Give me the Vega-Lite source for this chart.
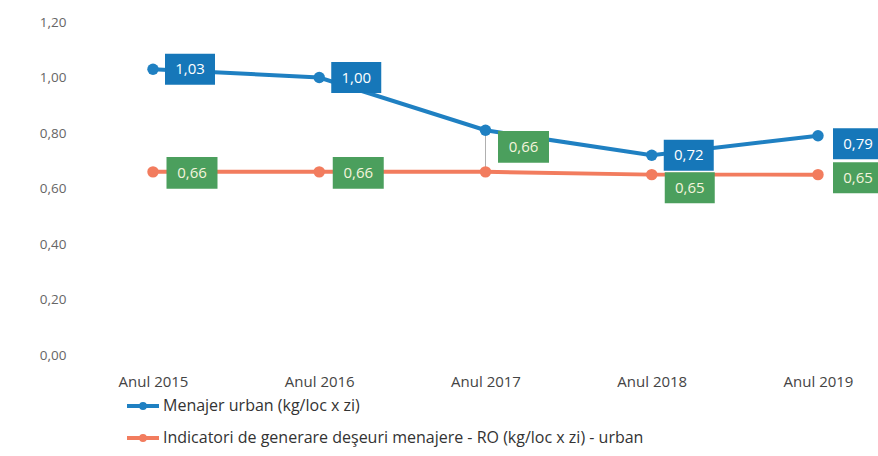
{
  "$schema": "https://vega.github.io/schema/vega-lite/v6.json",
  "autosize": "none",
  "width": 808,
  "height": 333,
  "padding": {"left": 70, "top": 22, "right": 0, "bottom": 101},
  "background": "white",
  "config": {
    "view": {"stroke": null},
    "locale": {"number": {"decimal": ",", "thousands": ".", "grouping": [3], "currency": ["", " lei"]}},
    "font": "Open Sans"
  },
  "data": {
    "values": [
      {"an": "Anul 2015", "serie": "Menajer urban (kg/loc x zi)", "v": 1.03},
      {"an": "Anul 2016", "serie": "Menajer urban (kg/loc x zi)", "v": 1.00},
      {"an": "Anul 2017", "serie": "Menajer urban (kg/loc x zi)", "v": 0.81},
      {"an": "Anul 2018", "serie": "Menajer urban (kg/loc x zi)", "v": 0.72},
      {"an": "Anul 2019", "serie": "Menajer urban (kg/loc x zi)", "v": 0.79},
      {"an": "Anul 2015", "serie": "Indicatori de generare deşeuri menajere - RO (kg/loc x zi) - urban", "v": 0.66},
      {"an": "Anul 2016", "serie": "Indicatori de generare deşeuri menajere - RO (kg/loc x zi) - urban", "v": 0.66},
      {"an": "Anul 2017", "serie": "Indicatori de generare deşeuri menajere - RO (kg/loc x zi) - urban", "v": 0.66},
      {"an": "Anul 2018", "serie": "Indicatori de generare deşeuri menajere - RO (kg/loc x zi) - urban", "v": 0.65},
      {"an": "Anul 2019", "serie": "Indicatori de generare deşeuri menajere - RO (kg/loc x zi) - urban", "v": 0.65}
    ]
  },
  "encoding": {
    "x": {
      "field": "an", "type": "ordinal",
      "scale": {"type": "point", "range": [83, 748], "padding": 0},
      "axis": {"title": null, "labelAngle": 0, "ticks": false, "domain": false, "labelPadding": 19, "labelFontSize": 15, "labelColor": "#444", "labelFont": "Open Sans"}
    },
    "y": {
      "field": "v", "type": "quantitative",
      "scale": {"domain": [0, 1.2], "nice": false, "zero": true},
      "axis": {"title": null, "values": [0, 0.2, 0.4, 0.6, 0.8, 1.0, 1.2], "format": ".2f", "grid": false, "ticks": false, "domain": false, "labelPadding": 4, "labelFontSize": 13.5, "labelColor": "#666"}
    }
  },
  "layer": [
    {
      "transform": [
        {"pivot": "serie", "value": "v", "groupby": ["an"]},
        {"filter": "datum.an == 'Anul 2017'"}
      ],
      "mark": {"type": "rule", "color": "#b0b0b0", "strokeWidth": 1},
      "encoding": {
        "y": {"field": "Menajer urban (kg/loc x zi)", "type": "quantitative"},
        "y2": {"field": "Indicatori de generare deşeuri menajere - RO (kg/loc x zi) - urban"}
      }
    },
    {
      "mark": {"type": "line", "strokeWidth": 4, "point": {"filled": true, "size": 130, "opacity": 1}},
      "encoding": {
        "color": {
          "field": "serie", "type": "nominal",
          "scale": {"domain": ["Menajer urban (kg/loc x zi)", "Indicatori de generare deşeuri menajere - RO (kg/loc x zi) - urban"], "range": ["#1f80c2", "#f27c5e"]},
          "legend": {
            "title": null, "orient": "none", "direction": "vertical",
            "legendX": 55, "legendY": 366,
            "symbolType": "M-1,0H-0.12M0.12,0H1M-0.12,0A0.12,0.12 0 1,1 0.12,0A0.12,0.12 0 1,1 -0.12,0",
            "symbolSize": 1024, "symbolStrokeWidth": 4,
            "labelFontSize": 16, "labelColor": "#333", "labelOffset": 2, "rowPadding": 4,
            "labelLimit": 700
          }
        }
      }
    },
    {
      "transform": [{"filter": "datum.serie == 'Menajer urban (kg/loc x zi)' && (datum.an == 'Anul 2015' || datum.an == 'Anul 2016' || datum.an == 'Anul 2018')"}],
      "layer": [
        {"mark": {"type": "point", "shape": "M-1,-0.62H1V0.62H-1Z", "size": 2500, "filled": true, "opacity": 1, "color": "#1677b9", "xOffset": 37, "yOffset": 0}},
        {"mark": {"type": "text", "color": "white", "fontSize": 15, "xOffset": 37, "yOffset": 0, "baseline": "middle", "align": "center"}, "encoding": {"text": {"field": "v", "type": "quantitative", "format": ".2f"}}}
      ]
    },
    {
      "transform": [{"filter": "datum.serie == 'Menajer urban (kg/loc x zi)' && datum.an == 'Anul 2019'"}],
      "layer": [
        {"mark": {"type": "point", "shape": "M-1,-0.62H1V0.62H-1Z", "size": 2500, "filled": true, "opacity": 1, "color": "#1677b9", "xOffset": 40, "yOffset": 8}},
        {"mark": {"type": "text", "color": "white", "fontSize": 15, "xOffset": 40, "yOffset": 8, "baseline": "middle", "align": "center"}, "encoding": {"text": {"field": "v", "type": "quantitative", "format": ".2f"}}}
      ]
    },
    {
      "transform": [{"filter": "datum.serie != 'Menajer urban (kg/loc x zi)' && (datum.an == 'Anul 2015' || datum.an == 'Anul 2016')"}],
      "layer": [
        {"mark": {"type": "point", "shape": "M-1,-0.62H1V0.62H-1Z", "size": 2600, "filled": true, "opacity": 1, "color": "#4b9f5d", "xOffset": 39, "yOffset": 1}},
        {"mark": {"type": "text", "color": "#f4f4dc", "fontSize": 15, "xOffset": 39, "yOffset": 1, "baseline": "middle", "align": "center"}, "encoding": {"text": {"field": "v", "type": "quantitative", "format": ".2f"}}}
      ]
    },
    {
      "transform": [{"filter": "datum.serie != 'Menajer urban (kg/loc x zi)' && datum.an == 'Anul 2017'"}],
      "layer": [
        {"mark": {"type": "point", "shape": "M-1,-0.62H1V0.62H-1Z", "size": 2600, "filled": true, "opacity": 1, "color": "#4b9f5d", "xOffset": 38, "yOffset": -25}},
        {"mark": {"type": "text", "color": "#f4f4dc", "fontSize": 15, "xOffset": 38, "yOffset": -25, "baseline": "middle", "align": "center"}, "encoding": {"text": {"field": "v", "type": "quantitative", "format": ".2f"}}}
      ]
    },
    {
      "transform": [{"filter": "datum.serie != 'Menajer urban (kg/loc x zi)' && datum.an == 'Anul 2018'"}],
      "layer": [
        {"mark": {"type": "point", "shape": "M-1,-0.62H1V0.62H-1Z", "size": 2500, "filled": true, "opacity": 1, "color": "#4b9f5d", "xOffset": 38, "yOffset": 13}},
        {"mark": {"type": "text", "color": "#f4f4dc", "fontSize": 15, "xOffset": 38, "yOffset": 13, "baseline": "middle", "align": "center"}, "encoding": {"text": {"field": "v", "type": "quantitative", "format": ".2f"}}}
      ]
    },
    {
      "transform": [{"filter": "datum.serie != 'Menajer urban (kg/loc x zi)' && datum.an == 'Anul 2019'"}],
      "layer": [
        {"mark": {"type": "point", "shape": "M-1,-0.62H1V0.62H-1Z", "size": 2500, "filled": true, "opacity": 1, "color": "#4b9f5d", "xOffset": 40, "yOffset": 3}},
        {"mark": {"type": "text", "color": "#f4f4dc", "fontSize": 15, "xOffset": 40, "yOffset": 3, "baseline": "middle", "align": "center"}, "encoding": {"text": {"field": "v", "type": "quantitative", "format": ".2f"}}}
      ]
    }
  ]
}
